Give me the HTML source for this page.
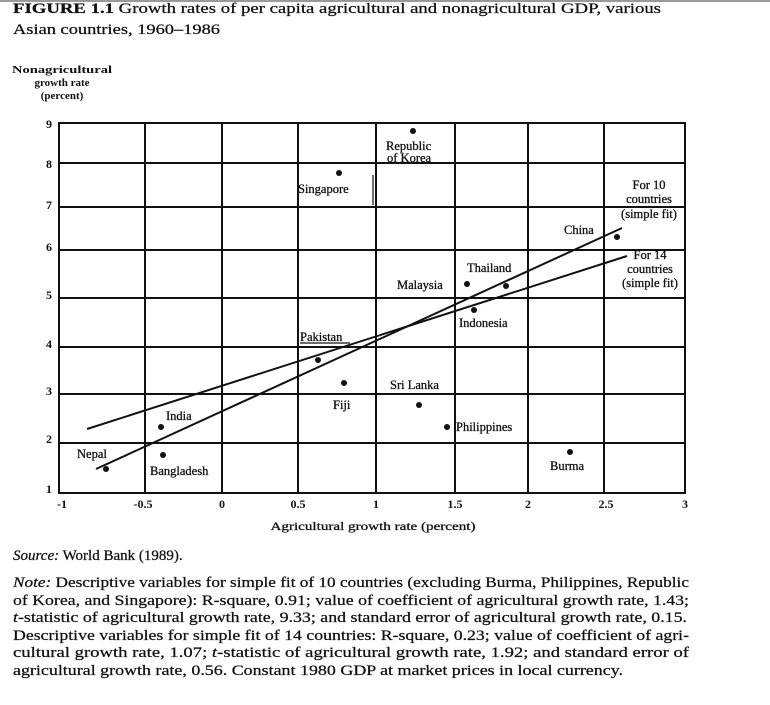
<!DOCTYPE html>
<html><head><meta charset="utf-8"><style>
html,body{margin:0;padding:0;background:#fff;}
svg{display:block;}
text{font-family:"Liberation Serif",serif;fill:#111;}
.s{font-size:12.5px;stroke:#111;stroke-width:0.3;}
.n{font-size:15px;stroke:#111;stroke-width:0.25;}
</style></head><body>
<svg width="770" height="705" viewBox="0 0 770 705">
<rect x="0" y="0" width="770" height="2" fill="#999"/>
<text x="13" y="13" class="n" textLength="648" lengthAdjust="spacingAndGlyphs"><tspan font-weight="bold">FIGURE 1.1</tspan> Growth rates of per capita agricultural and nonagricultural GDP, various</text>
<text x="13" y="34" class="n" textLength="207" lengthAdjust="spacingAndGlyphs">Asian countries, 1960–1986</text>
<g font-size="11" font-weight="bold" text-anchor="middle">
<text x="62" y="73" textLength="100" lengthAdjust="spacingAndGlyphs">Nonagricultural</text>
<text x="62" y="86">growth rate</text>
<text x="62" y="99">(percent)</text>
</g>
<g stroke="#111" stroke-width="2" fill="none">
<rect x="59" y="123" width="626" height="370"/>
<line x1="145" y1="123" x2="145" y2="493"/>
<line x1="222" y1="123" x2="222" y2="493"/>
<line x1="298" y1="123" x2="298" y2="493"/>
<line x1="376" y1="123" x2="376" y2="493"/>
<line x1="455" y1="123" x2="455" y2="493"/>
<line x1="528" y1="123" x2="528" y2="493"/>
<line x1="604" y1="123" x2="604" y2="493"/>
<line x1="59" y1="163" x2="685" y2="163"/>
<line x1="59" y1="207" x2="685" y2="207"/>
<line x1="59" y1="250" x2="685" y2="250"/>
<line x1="59" y1="298" x2="685" y2="298"/>
<line x1="59" y1="347" x2="685" y2="347"/>
<line x1="59" y1="394" x2="685" y2="394"/>
<line x1="59" y1="443" x2="685" y2="443"/>
<line x1="87" y1="429" x2="627" y2="256"/>
<line x1="96" y1="469" x2="622" y2="228"/>
<line x1="300" y1="343" x2="350" y2="343" stroke-width="1.2"/>
<line x1="373" y1="175" x2="373" y2="205" stroke-width="1.2"/>
</g>
<g font-size="12" font-weight="bold" text-anchor="end">
<text x="52" y="128">9</text><text x="52" y="168">8</text><text x="52" y="209">7</text>
<text x="52" y="251">6</text><text x="52" y="299">5</text><text x="52" y="348">4</text>
<text x="52" y="395">3</text><text x="52" y="443">2</text><text x="52" y="493">1</text>
</g>
<g font-size="12" text-anchor="middle" font-weight="bold">
<text x="62" y="508">-1</text><text x="143" y="508">-0.5</text><text x="222" y="508">0</text>
<text x="298" y="508">0.5</text><text x="376" y="508">1</text><text x="455" y="508">1.5</text>
<text x="528" y="508">2</text><text x="606" y="508">2.5</text><text x="685" y="508">3</text>
</g>
<g fill="#111">
<circle cx="339" cy="173" r="3"/><circle cx="318" cy="360" r="3"/><circle cx="344" cy="383" r="3"/>
<circle cx="161" cy="427" r="3"/><circle cx="163" cy="455" r="3"/><circle cx="106" cy="469" r="3"/>
<circle cx="413" cy="131" r="3"/><circle cx="617" cy="237" r="3"/><circle cx="506" cy="286" r="3"/>
<circle cx="467" cy="284" r="3"/><circle cx="474" cy="310" r="3"/><circle cx="419" cy="405" r="3"/>
<circle cx="447" cy="427" r="3"/><circle cx="570" cy="452" r="3"/>
</g>
<g class="s">
<text x="386" y="150">Republic</text><text x="387" y="162">of Korea</text>
<text x="298" y="193">Singapore</text>
<text x="300" y="341">Pakistan</text>
<text x="333" y="409">Fiji</text>
<text x="166" y="420">India</text>
<text x="77" y="458">Nepal</text>
<text x="150" y="475">Bangladesh</text>
<text x="390" y="389">Sri Lanka</text>
<text x="456" y="431">Philippines</text>
<text x="550" y="470">Burma</text>
<text x="459" y="327">Indonesia</text>
<text x="397" y="289">Malaysia</text>
<text x="467" y="272">Thailand</text>
<text x="564" y="234">China</text>
<g text-anchor="middle">
<text x="649" y="189">For 10</text><text x="649" y="203">countries</text><text x="649" y="218">(simple fit)</text>
<text x="650" y="259">For 14</text><text x="650" y="273">countries</text><text x="650" y="287">(simple fit)</text>
</g>
</g>
<text x="373" y="530" text-anchor="middle" font-size="12" stroke="#111" stroke-width="0.3" textLength="205" lengthAdjust="spacingAndGlyphs">Agricultural growth rate (percent)</text>
<g class="n">
<text x="13" y="560"><tspan font-style="italic">Source:</tspan> World Bank (1989).</text>
<text x="13" y="587" textLength="676" lengthAdjust="spacingAndGlyphs"><tspan font-style="italic">Note:</tspan> Descriptive variables for simple fit of 10 countries (excluding Burma, Philippines, Republic</text>
<text x="13" y="605" textLength="676" lengthAdjust="spacingAndGlyphs">of Korea, and Singapore): R-square, 0.91; value of coefficient of agricultural growth rate, 1.43;</text>
<text x="13" y="622" textLength="674" lengthAdjust="spacingAndGlyphs"><tspan font-style="italic">t</tspan>-statistic of agricultural growth rate, 9.33; and standard error of agricultural growth rate, 0.15.</text>
<text x="13" y="640" textLength="676" lengthAdjust="spacingAndGlyphs">Descriptive variables for simple fit of 14 countries: R-square, 0.23; value of coefficient of agri-</text>
<text x="13" y="657" textLength="676" lengthAdjust="spacingAndGlyphs">cultural growth rate, 1.07; <tspan font-style="italic">t</tspan>-statistic of agricultural growth rate, 1.92; and standard error of</text>
<text x="13" y="675" textLength="610" lengthAdjust="spacingAndGlyphs">agricultural growth rate, 0.56. Constant 1980 GDP at market prices in local currency.</text>
</g>
</svg>
</body></html>
